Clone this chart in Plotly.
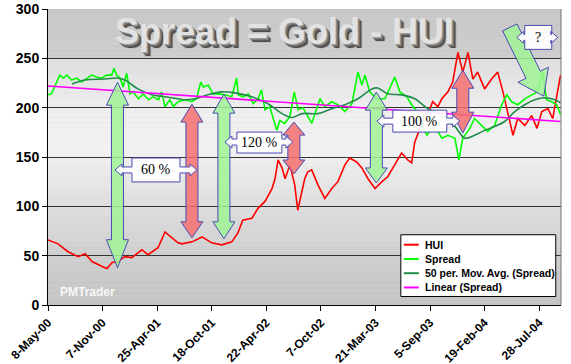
import math
import plotly.graph_objects as go

# ---------------- data ----------------
tick_labels = ["8-May-00", "7-Nov-00", "25-Apr-01", "18-Oct-01", "22-Apr-02",
               "7-Oct-02", "21-Mar-03", "5-Sep-03", "19-Feb-04", "28-Jul-04"]
tick_days = [0, 125, 250, 375, 500, 625, 750, 875, 1000, 1125]   # trading-day index

hui_day = [0, 23, 46, 69, 85, 101, 124, 135, 147, 160, 176, 192, 215, 229, 252, 268, 284,
           298, 307, 330, 353, 375, 398, 421, 435, 446, 467, 481, 497, 513, 520, 527, 536,
           543, 554, 565, 572, 582, 588, 595, 604, 618, 634, 650, 664, 680, 691, 707, 719,
           733, 749, 765, 778, 794, 810, 824, 833, 840, 852, 863, 875, 881, 893, 902, 916,
           927, 939, 950, 962, 973, 984, 1000, 1016, 1030, 1042, 1053, 1065, 1076, 1092,
           1108, 1120, 1131, 1145, 1156, 1165, 1174]
hui_val = [66, 62, 54, 49, 52, 44, 39, 37, 43, 44, 49, 48, 56, 51, 58, 74, 68,
           63, 62, 64, 69, 63, 61, 64, 73, 86, 88, 98, 105, 118, 128, 147, 139,
           128, 142, 122, 96, 118, 128, 135, 137, 122, 108, 118, 125, 142, 149, 145, 139,
           128, 118, 125, 130, 142, 154, 147, 144, 165, 179, 192, 199, 206, 201, 209, 216,
           226, 256, 236, 256, 229, 236, 219, 229, 236, 216, 196, 172, 189, 182,
           192, 179, 196, 199, 189, 213, 233]

spread_day = [0, 8, 20, 27, 35, 43, 54, 66, 77, 89, 100, 111, 123, 134, 146, 151, 157, 165,
              172, 180, 188, 195, 207, 218, 230, 241, 253, 260, 268, 279, 287, 298, 314, 329,
              340, 350, 356, 367, 378, 390, 405, 421, 432, 436, 447, 459, 470, 481, 489, 497,
              508, 516, 524, 531, 542, 554, 564, 573, 584,
              604, 623, 634, 650, 664, 680, 696, 710, 719, 726,
              737, 753, 772, 788, 794, 806, 822, 833, 845, 856, 868, 879, 893, 902, 916, 932,
              941, 950, 966, 977, 994, 1007, 1023, 1039, 1051, 1062, 1076, 1092, 1108, 1122,
              1133, 1142, 1154, 1165, 1174]
spread_val = [213, 214, 226, 233, 230, 233, 228, 230, 226, 230, 233, 231, 230, 233, 233, 240,
              233, 230, 221, 235, 214, 216, 209, 214, 208, 211, 208, 216, 201, 208, 201, 206,
              208, 206, 209, 226, 221, 223, 214, 214, 213, 211, 230, 213, 211, 214, 204, 209,
              218, 198, 201, 189, 177, 187, 184, 191, 216, 198, 200,
              184, 209, 201, 206, 203, 196, 204, 236, 223, 233,
              216, 209, 209, 226, 231, 216, 211, 203, 196, 182, 172, 179, 176, 169, 172, 169,
              147, 169, 179, 189, 182, 176, 182, 203, 213, 206, 203, 209, 213, 216,
              236, 208, 206, 203, 193]

ma_day = [55, 85, 130, 158, 176, 206, 238, 268, 298, 314, 337, 366, 398, 428, 467, 504, 536,
          559, 582, 618, 650, 680, 710, 742, 755, 778, 810, 840, 870, 893, 909, 932, 955, 977,
          1000, 1023, 1046, 1069, 1092, 1115, 1138, 1161, 1174]
ma_val = [224, 228, 229, 230, 228, 219, 213, 211, 209, 208, 209, 213, 216, 215, 211, 204, 194,
          190, 194, 194, 199, 203, 209, 219, 220, 214, 213, 209, 199, 194, 189, 181, 169, 172,
          177, 181, 186, 196, 203, 208, 210, 208, 205]

trend_day = [0, 1174]
trend_val = [222, 186]

series_names = ["HUI", "Spread", "50 per. Mov. Avg. (Spread)", "Linear (Spread)"]
series_colors = ["#ff0000", "#00ff00", "#228b4b", "#ff00ff"]

# ---------------- styling helpers (decoration only) ----------------
X0_PX, DAYS_PER_PX = 48.0, 125 / 54.6
Y0_PX, PX_PER_UNIT = 305.5, 0.99


def dx(px):
    return (px - X0_PX) * DAYS_PER_PX


def dy(py):
    return (Y0_PX - py) / PX_PER_UNIT


def path_from_px(points):
    return "M " + " L ".join(f"{dx(a):.2f},{dy(b):.2f}" for a, b in points) + " Z"


def double_arrow(cx, top, top_base, bot, bot_base, sw=6, hw=11):
    pts = [(cx, top), (cx + hw, top_base), (cx + sw, top_base), (cx + sw, bot_base),
           (cx + hw, bot_base), (cx, bot), (cx - hw, bot_base), (cx - sw, bot_base),
           (cx - sw, top_base), (cx - hw, top_base)]
    return path_from_px(pts)


def callout(bx0, bx1, by0, by1, lx, rx, cy, nh=3, hh=6, hl=7):
    pts = [(bx0, by0), (bx1, by0), (bx1, cy - nh), (rx - hl, cy - nh), (rx - hl, cy - hh),
           (rx, cy), (rx - hl, cy + hh), (rx - hl, cy + nh), (bx1, cy + nh), (bx1, by1),
           (bx0, by1), (bx0, cy + nh), (lx + hl, cy + nh), (lx + hl, cy + hh), (lx, cy),
           (lx + hl, cy - hh), (lx + hl, cy - nh), (bx0, cy - nh)]
    return path_from_px(pts)


def single_arrow(tail, tip, sw=8, hw=17, hl=24):
    vx, vy = tip[0] - tail[0], tip[1] - tail[1]
    L = math.hypot(vx, vy)
    ux, uy = vx / L, vy / L
    nx, ny = -uy, ux
    bx, by = tip[0] - ux * hl, tip[1] - uy * hl
    pts = [(tail[0] + nx * sw, tail[1] + ny * sw), (bx + nx * sw, by + ny * sw),
           (bx + nx * hw, by + ny * hw), tip, (bx - nx * hw, by - ny * hw),
           (bx - nx * sw, by - ny * sw), (tail[0] - nx * sw, tail[1] - ny * sw)]
    return path_from_px(pts)


fig = go.Figure()
for xs, ys, nm, col in zip([hui_day, spread_day, ma_day, trend_day],
                           [hui_val, spread_val, ma_val, trend_val],
                           series_names, series_colors):
    fig.add_trace(go.Scatter(x=xs, y=ys, mode="lines", name=nm, showlegend=False,
                             hoverinfo="skip",
                             line=dict(color=col, width=1.6,
                                       shape="spline" if nm.startswith("50") else "linear")))

shapes = []
annotations = []

# background gradient of the plot area
stops = [(0, 196), (50, 206), (100, 222), (160, 242), (200, 238), (250, 222),
         (250.01, 204), (300, 200)]


def grey_at(v):
    for (a, ca), (b, cb) in zip(stops[:-1], stops[1:]):
        if a <= v <= b:
            t = 0 if b == a else (v - a) / (b - a)
            return int(round(ca + (cb - ca) * t))
    return stops[-1][1]


nb = 60
for i in range(nb):
    y0 = 300 * i / nb
    y1 = 300 * (i + 1) / nb
    g = grey_at((y0 + y1) / 2)
    shapes.append(dict(type="rect", xref="x", yref="y", x0=0, x1=1175, y0=y0, y1=y1,
                       fillcolor=f"rgb({g},{g},{g})", line=dict(width=0), layer="below"))

shapes.append(dict(type="line", xref="paper", yref="paper", x0=1, x1=1, y0=0, y1=1,
                   line=dict(color="#777777", width=1), layer="above"))

GREEN = "rgba(160,245,150,0.85)"
RED = "rgba(245,110,110,0.85)"
EDGE = dict(color="#4b4bb4", width=1)

arrows = [
    (117.5, 82, 105, 268, 240, GREEN),
    (192, 104, 122, 238, 222, RED),
    (224, 94, 113, 239, 222, GREEN),
    (294, 122, 135, 174, 160, RED),
    (376.5, 92, 110, 183, 168, GREEN),
    (463, 70, 88, 133, 112, RED),
]
for cx, t, tb, b, bb, col in arrows:
    shapes.append(dict(type="path", xref="x", yref="y", path=double_arrow(cx, t, tb, b, bb),
                       fillcolor=col, line=EDGE, layer="above"))

shapes.append(dict(type="path", xref="x", yref="y", path=single_arrow((510, 27), (544, 96)),
                   fillcolor=GREEN, line=EDGE, layer="above"))

callouts = [
    (132, 180, 158, 182, 115, 197, 170, "60 %"),
    (237, 282, 132, 153, 225, 293, 142, "120 %"),
    (393, 447, 110, 132, 377, 460, 121, "100 %"),
    (525, 552, 25, 49, 517, 558, 37, "?"),
]
for bx0, bx1, by0, by1, lx, rx, cy, txt in callouts:
    shapes.append(dict(type="path", xref="x", yref="y",
                       path=callout(bx0, bx1, by0, by1, lx, rx, cy),
                       fillcolor="rgba(255,255,255,0.92)", line=EDGE, layer="above"))
    annotations.append(dict(x=dx((bx0 + bx1) / 2), y=dy(cy), xref="x", yref="y", text=txt,
                            showarrow=False,
                            font=dict(family="Liberation Serif, Times New Roman, serif",
                                      size=14, color="black")))

# 3-D looking title
annotations.append(dict(x=dx(285), y=dy(31), xref="x", yref="y",
                        text="<b>Spread = Gold - HUI</b>", showarrow=False,
                        font=dict(family="Liberation Sans, Arial, sans-serif", size=36,
                                  color="#e2e2e2",
                                  shadow="1px 1px 0 #9a9a9a, 2px 2px 0 #7a7a7a, "
                                         "3px 3px 0 #5a5a5a, 4px 4px 1px #404040")))

annotations.append(dict(x=dx(58), y=dy(292), xref="x", yref="y", xanchor="left",
                        text="<b>PMTrader</b>", showarrow=False,
                        font=dict(family="Liberation Sans, Arial, sans-serif", size=12,
                                  color="rgba(255,255,255,0.9)")))

# legend box drawn by hand (to match the compact Excel legend)
LX0, LX1, LY0, LY1 = 401, 556, 235, 297
shapes.append(dict(type="rect", xref="x", yref="y", x0=dx(LX0), x1=dx(LX1), y0=dy(LY1),
                   y1=dy(LY0), fillcolor="white", line=dict(color="black", width=1),
                   layer="above"))
for i, (nm, col) in enumerate(zip(series_names, series_colors)):
    yc = 245 + i * 14.3
    shapes.append(dict(type="line", xref="x", yref="y", x0=dx(404), x1=dx(419), y0=dy(yc),
                       y1=dy(yc), line=dict(color=col, width=2), layer="above"))
    annotations.append(dict(x=dx(423), y=dy(yc), xref="x", yref="y", xanchor="left",
                            yanchor="middle", text=f"<b>{nm}</b>", showarrow=False,
                            font=dict(family="Liberation Sans, Arial, sans-serif", size=10.5,
                                      color="black")))

fig.update_layout(
    template="none",
    width=571, height=364,
    margin=dict(l=48, r=10, t=8.5, b=58.5, pad=0, autoexpand=False),
    paper_bgcolor="white",
    plot_bgcolor="#dcdcdc",
    shapes=shapes,
    annotations=annotations,
    showlegend=False,
    font=dict(family="Liberation Sans, Arial, sans-serif", color="black"),
)

fig.update_xaxes(range=[0, 1175], tickmode="array", tickvals=tick_days,
                 ticktext=[f"<b>{t}</b>" for t in tick_labels], automargin=False,
                 tickangle=-45, tickfont=dict(size=12, color="black"),
                 showgrid=False, zeroline=False, showline=True, linecolor="black", linewidth=1,
                 ticks="outside", ticklen=5, tickcolor="black")
fig.update_yaxes(range=[0, 300], tickmode="array", tickvals=[0, 50, 100, 150, 200, 250, 300],
                 ticktext=[f"<b>{v}</b>" for v in [0, 50, 100, 150, 200, 250, 300]],
                 automargin=False, tickfont=dict(size=14, color="black"),
                 showgrid=True, gridcolor="#333333", gridwidth=1, zeroline=False,
                 showline=True, linecolor="black", linewidth=1,
                 ticks="outside", ticklen=5, tickcolor="black")

fig.write_html("out.html", config={"displayModeBar": False},
               post_script="document.body.style.margin='0px';"
                           "document.body.style.padding='0px';")
